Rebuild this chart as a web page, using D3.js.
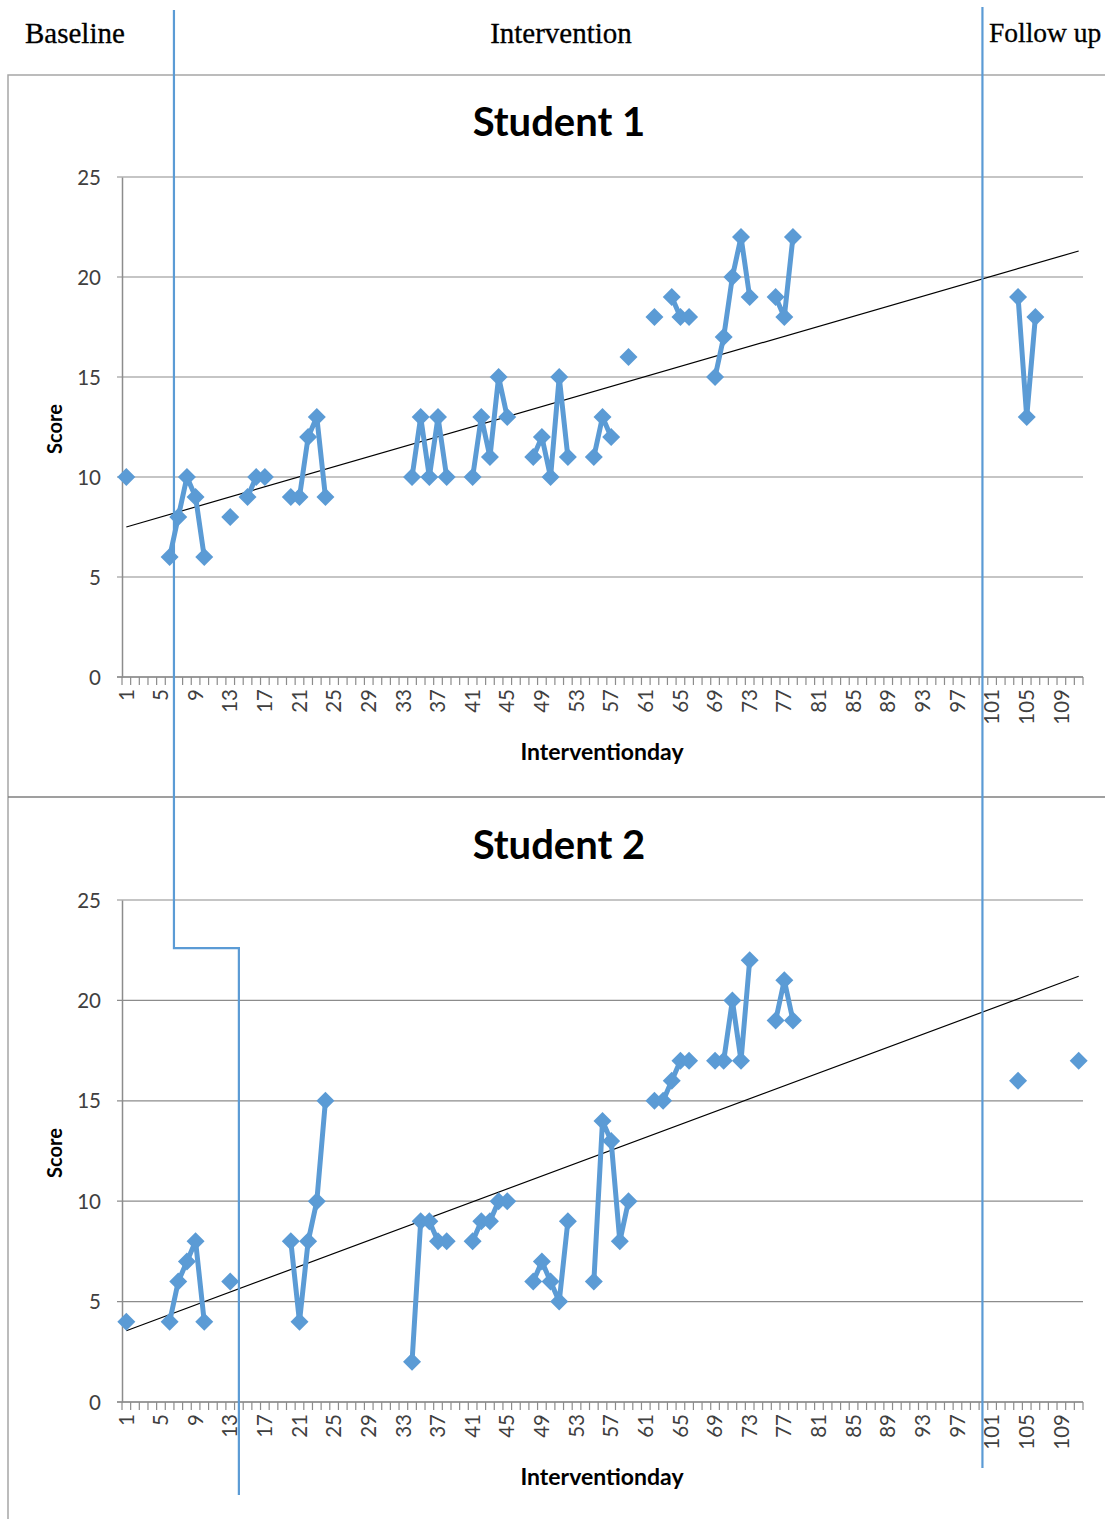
<!DOCTYPE html>
<html>
<head>
<meta charset="utf-8">
<script src="https://cdn.jsdelivr.net/npm/d3@7"></script>
<style>
  html, body { margin: 0; padding: 0; background: #fff; }
  svg { display: block; }
</style>
</head>
<body>
<svg id="chart" width="1105" height="1519"></svg>
<script>
// ---------- DATA ----------
const days = d3.range(1, 112);                 // categories 1..111
const tickDays = d3.range(1, 112, 4);          // 1,5,9,...,109
const yTicks = [0, 5, 10, 15, 20, 25];

const s1Days   = [1, 6, 7, 8, 9, 10, 13, 15, 16, 17, 20, 21, 22, 23, 24, 34, 35, 36, 37, 38, 41, 42, 43, 44, 45, 48, 49, 50, 51, 52, 55, 56, 57, 59, 62, 64, 65, 66, 69, 70, 71, 72, 73, 76, 77, 78, 104, 105, 106];
const s1Scores = [10, 6, 8, 10, 9, 6, 8, 9, 10, 10, 9, 9, 12, 13, 9, 10, 13, 10, 13, 10, 10, 13, 11, 15, 13, 11, 12, 10, 15, 11, 11, 13, 12, 16, 18, 19, 18, 18, 15, 17, 20, 22, 19, 19, 18, 22, 19, 13, 18];

const s2Days   = [1, 6, 7, 8, 9, 10, 13, 20, 21, 22, 23, 24, 34, 35, 36, 37, 38, 41, 42, 43, 44, 45, 48, 49, 50, 51, 52, 55, 56, 57, 58, 59, 62, 63, 64, 65, 66, 69, 70, 71, 72, 73, 76, 77, 78, 104, 111];
const s2Scores = [4, 4, 6, 7, 8, 4, 6, 8, 4, 8, 10, 15, 2, 9, 9, 8, 8, 8, 9, 9, 10, 10, 6, 7, 6, 5, 9, 6, 14, 13, 8, 10, 15, 15, 16, 17, 17, 17, 17, 20, 17, 22, 19, 21, 19, 16, 17];

// linear trend lines (start/end values at day 1 and day 111)
const trendDays = [1, 111];
const trend1 = [7.5, 21.3];
const trend2 = [3.55, 21.2];

const phaseLabels = ["Baseline", "Intervention", "Follow up"];
const panelTitles = ["Student 1", "Student 2"];

// ---------- STYLE ----------
const BLUE = "#5B9BD5";
const GRID = "#8c8c8c";
const TXT = "#404040";
const FONT = "Lato, 'Open Sans', sans-serif";

const svg = d3.select("#chart");

// header phase labels
const serif = "'Liberation Serif', 'Times New Roman', serif";
svg.append("text").attr("x", 25).attr("y", 43).attr("font-family", serif).attr("font-size", 29)
  .attr("fill", "#000").attr("stroke", "#000").attr("stroke-width", 0.3).text(phaseLabels[0]);
svg.append("text").attr("x", 561).attr("y", 43).attr("text-anchor", "middle").attr("font-family", serif)
  .attr("font-size", 29).attr("fill", "#000").attr("stroke", "#000").attr("stroke-width", 0.3).text(phaseLabels[1]);
svg.append("text").attr("x", 989).attr("y", 42).attr("font-family", serif).attr("font-size", 27.5)
  .attr("fill", "#000").attr("stroke", "#000").attr("stroke-width", 0.3).text(phaseLabels[2]);

// panel frames
svg.append("path").attr("d", "M8,1519 L8,75 L1105,75").attr("fill", "none")
  .attr("stroke", "#a6a6a6").attr("stroke-width", 1.5);
svg.append("line").attr("x1", 8).attr("x2", 1105).attr("y1", 797).attr("y2", 797)
  .attr("stroke", "#7f7f7f").attr("stroke-width", 1.5);

const x = d3.scaleBand().domain(days).range([122, 1083]).padding(0);
const bw = x.bandwidth();
const cx = d => x(d) + bw / 2;

function toSeries(ds, vs) {
  const m = new Map(ds.map((d, i) => [d, vs[i]]));
  return days.map(d => ({ day: d, v: m.has(d) ? m.get(d) : null }));
}

const panels = [
  { top: 177, bottom: 677, title: panelTitles[0], titleY: 136, days: s1Days, scores: s1Scores, trend: trend1 },
  { top: 900, bottom: 1402, title: panelTitles[1], titleY: 859, days: s2Days, scores: s2Scores, trend: trend2 }
];

const ys = [];
panels.forEach(p => {
  const g = svg.append("g");
  const y = d3.scaleLinear().domain([0, 25]).range([p.bottom, p.top]);
  ys.push(y);

  // title
  g.append("text").attr("x", 559).attr("y", p.titleY).attr("text-anchor", "middle")
    .attr("font-family", FONT).attr("font-weight", "bold").attr("font-size", 40).attr("fill", "#000")
    .text(p.title);

  // gridlines
  g.selectAll(".grid").data(yTicks).join("line")
    .attr("x1", 117).attr("x2", 1083)
    .attr("y1", d => y(d)).attr("y2", d => y(d))
    .attr("stroke", GRID).attr("stroke-width", 1.2);

  // y axis
  const yAxis = d3.axisLeft(y).tickValues(yTicks).tickSize(0).tickPadding(21);
  const ya = g.append("g").attr("transform", "translate(122,0)").call(yAxis);
  ya.select(".domain").attr("stroke", GRID).attr("stroke-width", 1.5);
  ya.selectAll("text").attr("font-family", FONT).attr("font-size", 20.5).attr("fill", TXT)
    .attr("dy", "0.35em");

  // x axis line + ticks at category boundaries
  g.append("line").attr("x1", 117).attr("x2", 1083).attr("y1", p.bottom).attr("y2", p.bottom)
    .attr("stroke", GRID).attr("stroke-width", 1.5);
  const bounds = days.map(d => x(d)).concat([x(111) + bw]);
  g.selectAll(".xt").data(bounds).join("line")
    .attr("x1", d => d).attr("x2", d => d)
    .attr("y1", p.bottom).attr("y2", p.bottom + 8)
    .attr("stroke", GRID).attr("stroke-width", 1.2);
  g.selectAll(".xl").data(tickDays).join("text")
    .attr("transform", d => `translate(${cx(d)},${p.bottom + 12}) rotate(-90)`)
    .attr("text-anchor", "end").attr("dy", "0.35em")
    .attr("font-family", FONT).attr("font-size", 20.5).attr("fill", TXT)
    .text(d => d);

  // axis titles
  g.append("text").attr("transform", `translate(62,${(p.top + p.bottom) / 2 + 2}) rotate(-90)`)
    .attr("text-anchor", "middle").attr("font-family", FONT).attr("font-weight", "bold")
    .attr("font-size", 20).attr("fill", "#000").text("Score");
  g.append("text").attr("x", 602).attr("y", p.bottom + 83).attr("text-anchor", "middle")
    .attr("font-family", FONT).attr("font-weight", "bold").attr("font-size", 23).attr("fill", "#000")
    .text("Interventionday");

  // trend line
  g.append("line")
    .attr("x1", cx(trendDays[0])).attr("y1", y(p.trend[0]))
    .attr("x2", cx(trendDays[1])).attr("y2", y(p.trend[1]))
    .attr("stroke", "#000").attr("stroke-width", 1.2);

  // data line
  const series = toSeries(p.days, p.scores);
  const line = d3.line().defined(d => d.v !== null).x(d => cx(d.day)).y(d => y(d.v));
  g.append("path").datum(series).attr("d", line)
    .attr("fill", "none").attr("stroke", BLUE).attr("stroke-width", 5).attr("stroke-linejoin", "round");

  // markers (diamonds)
  const r = 9;
  g.selectAll(".mk").data(series.filter(d => d.v !== null)).join("path")
    .attr("d", `M0,${-r}L${r},0L0,${r}L${-r},0Z`)
    .attr("transform", d => `translate(${cx(d.day)},${y(d.v)})`)
    .attr("fill", BLUE);
});

// phase change lines
const baseEnd = x(6) + bw;        // boundary after day 6
const stepY = ys[1](22.6);
const s2Base = cx(14);            // Student 2 baseline ends at day 14
const follow = cx(100) - 1;       // follow-up boundary
svg.append("path")
  .attr("d", `M${baseEnd},10 L${baseEnd},${stepY} L${s2Base},${stepY} L${s2Base},1495`)
  .attr("fill", "none").attr("stroke", BLUE).attr("stroke-width", 2.2);
svg.append("line").attr("x1", follow).attr("x2", follow).attr("y1", 7).attr("y2", 1468)
  .attr("stroke", BLUE).attr("stroke-width", 2.2);
</script>
</body>
</html>
